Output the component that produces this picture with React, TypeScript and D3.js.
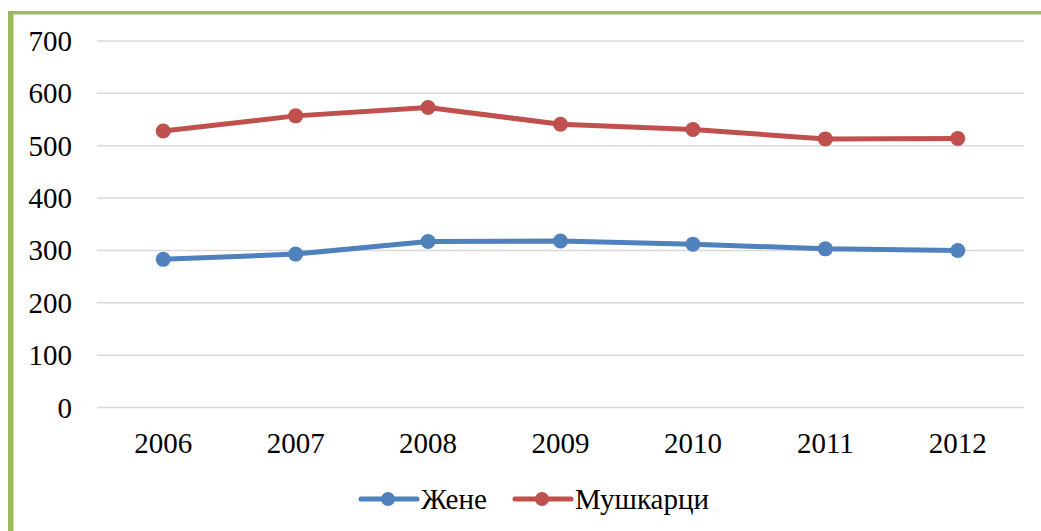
import React from "react";
import * as d3 from "d3";

const years = ["2006", "2007", "2008", "2009", "2010", "2011", "2012"];
const zene = [283, 293, 317, 318, 312, 303, 300];
const muskarci = [528, 557, 573, 541, 531, 513, 514];
const yTicks = [0, 100, 200, 300, 400, 500, 600, 700];
const seriesNames = ["Жене", "Мушкарци"];
const colors = ["#4F81BD", "#C0504D"];

export default function App() {
  const W = 1041, H = 531;
  const left = 97, right = 1024, top = 41, bottom = 407.5;
  const x = d3.scaleBand<string>().domain(years).range([left, right]);
  const y = d3.scaleLinear().domain([0, 700]).range([bottom, top]);
  const line = d3.line<number>()
    .x((_, i) => (x(years[i]) as number) + x.bandwidth() / 2)
    .y((d) => y(d));
  const series = [zene, muskarci];
  const ts: React.CSSProperties = { fontFamily: "Liberation Serif", fontSize: "29px" };
  const legendItems = [
    { lx: 361, tx: 421 },
    { lx: 515, tx: 575 },
  ];
  return (
    <svg width={W} height={H} style={{ position: "absolute", left: 0, top: 0 }}>
      <rect x={0} y={0} width={W} height={H} fill="#fff" />
      <rect x={8} y={11} width={W - 8} height={3.5} fill="#9BBB59" />
      <rect x={8} y={11} width={5.5} height={H - 11} fill="#9BBB59" />
      {yTicks.map((t) => (
        <g key={t}>
          <line x1={left} x2={right} y1={y(t)} y2={y(t)} stroke="#D9D9D9" strokeWidth={1.5} />
          <text x={72} y={y(t) + 10} textAnchor="end" style={ts} fill="#000">{t}</text>
        </g>
      ))}
      {years.map((yr) => (
        <text key={yr} x={(x(yr) as number) + x.bandwidth() / 2} y={452.5} textAnchor="middle" style={ts} fill="#000">{yr}</text>
      ))}
      {series.map((s, si) => (
        <g key={si}>
          <path d={line(s) || ""} fill="none" stroke={colors[si]} strokeWidth={5} strokeLinejoin="round" />
          {s.map((v, i) => (
            <circle key={i} cx={(x(years[i]) as number) + x.bandwidth() / 2} cy={y(v)} r={7.5} fill={colors[si]} />
          ))}
        </g>
      ))}
      {legendItems.map((li, i) => (
        <g key={i}>
          <line x1={li.lx} x2={li.lx + 56} y1={499} y2={499} stroke={colors[i]} strokeWidth={5} strokeLinecap="round" />
          <circle cx={li.lx + 27} cy={499} r={7} fill={colors[i]} />
          <text x={li.tx} y={509} style={ts} fill="#000">{seriesNames[i]}</text>
        </g>
      ))}
    </svg>
  );
}
